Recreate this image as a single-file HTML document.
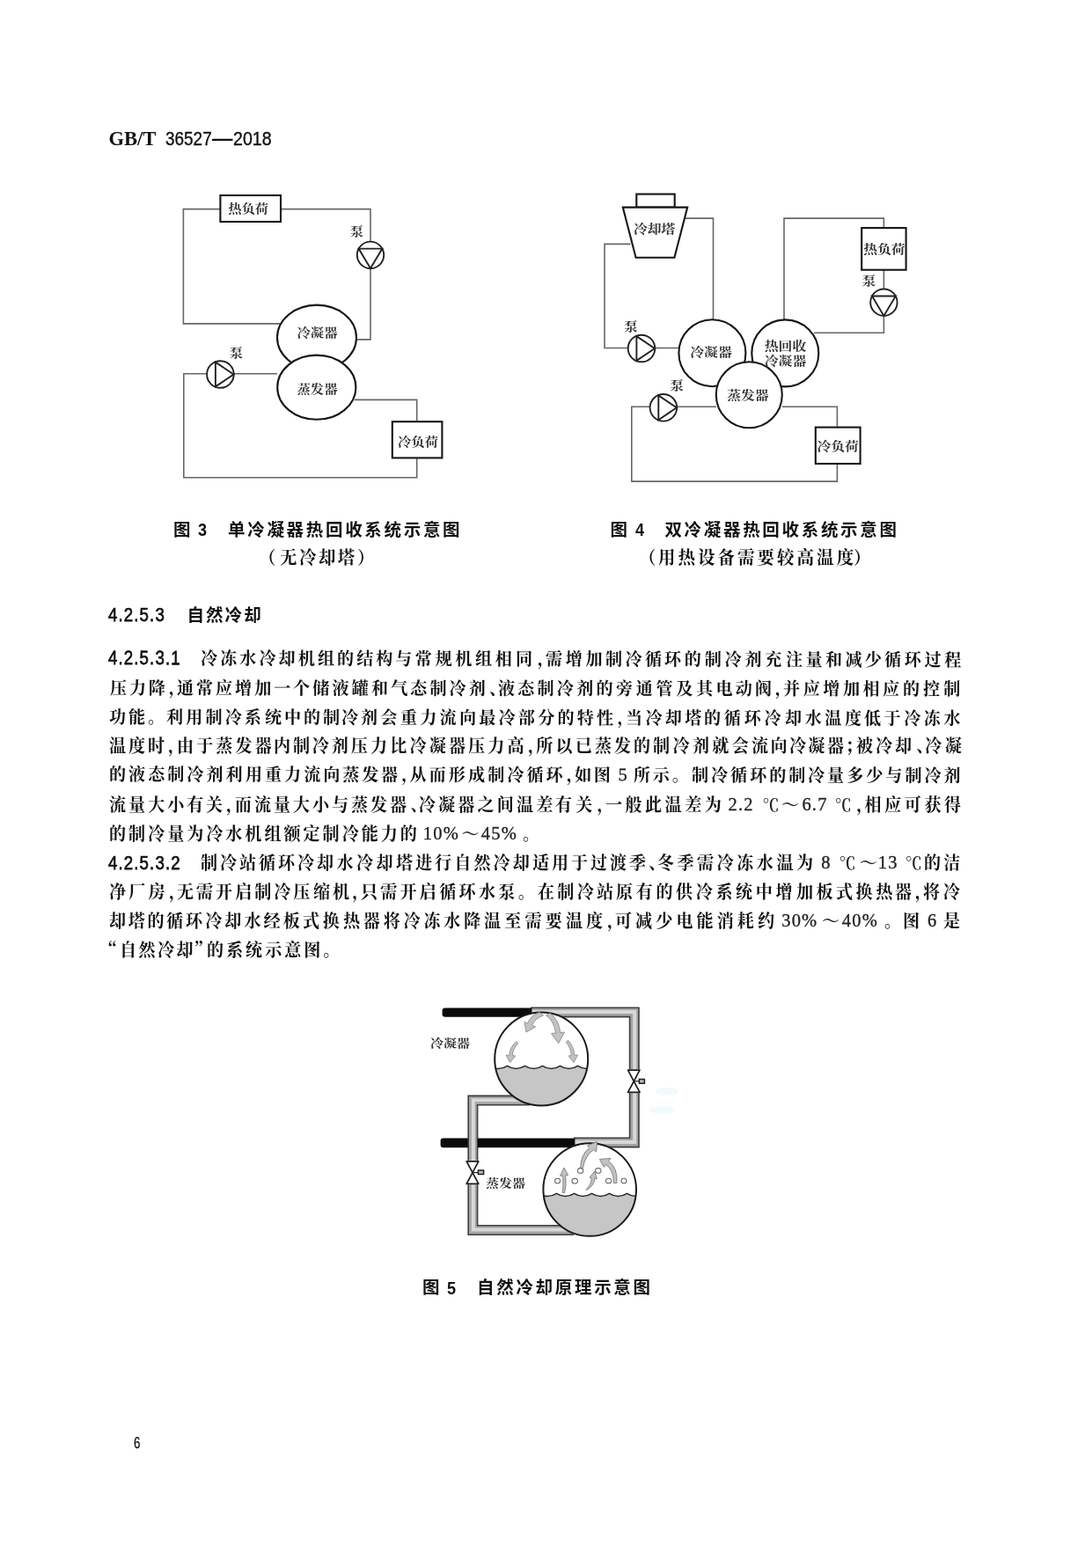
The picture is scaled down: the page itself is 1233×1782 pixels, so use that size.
<!DOCTYPE html>
<html lang="zh-CN">
<head>
<meta charset="utf-8">
<title>GB/T 36527—2018</title>
<style>
html,body{margin:0;padding:0;background:#fff;}
#page{filter:blur(0.55px);position:relative;width:1233px;height:1782px;overflow:hidden;background:#fff;color:#111;
  font-family:"Liberation Serif","Noto Serif CJK SC",serif;}
#figs{position:absolute;left:0;top:0;}
.hdr{position:absolute;left:0;top:138.2px;width:1233px;white-space:nowrap;height:40px;line-height:40px;}
.hdr b{font-family:"Liberation Serif",serif;font-weight:bold;position:absolute;left:123.4px;top:0;font-size:22.6px;}
.hdr span{font-family:"Liberation Sans",sans-serif;position:absolute;top:0.3px;font-size:22.2px;
  display:block;transform:scaleX(0.854);transform-origin:0 50%;-webkit-text-stroke:0.4px #111;}
.hdr span.dash{font-weight:bold;transform:scaleX(1.06);-webkit-text-stroke:0;top:-0.6px;}
.ln{position:absolute;left:0;width:1233px;height:30px;line-height:30px;font-size:20.1px;white-space:nowrap;transform-origin:124px 50%;}
.ln .c{position:absolute;top:0;display:block;white-space:nowrap;
  font-family:"Noto Serif CJK SC",serif;font-weight:700;transform:scaleX(0.95);transform-origin:0 50%;}
.ln i{font-style:normal;position:relative;left:1.2px;}
.ln .s{position:absolute;top:0;display:block;font-family:"Noto Serif CJK SC",serif;font-weight:600;color:#222;}
.ln .s.q{font-weight:700;color:#111;}
.ln .n,.sec b{position:absolute;top:0.9px;font-family:"Liberation Sans",sans-serif;font-weight:normal;font-size:22.2px;
  letter-spacing:1.35px;transform:scaleX(0.84);transform-origin:0 50%;display:block;-webkit-text-stroke:0.75px #111;}
.ln .d{position:absolute;top:0;font-family:"Liberation Serif",serif;font-weight:normal;color:#222;font-size:20.5px;letter-spacing:1.2px;-webkit-text-stroke:0.35px #222;top:0.4px;}
.ln .g{position:absolute;top:0;font-family:"Noto Serif CJK SC",serif;font-weight:600;color:#222;font-size:19px;}
.sec{position:absolute;left:123.4px;white-space:nowrap;height:30px;line-height:30px;}
.sec span{position:absolute;left:89px;top:0;font-size:19.5px;letter-spacing:2.1px;font-family:"Noto Sans CJK SC",sans-serif;font-weight:bold;}
.cap{position:absolute;left:0;width:1233px;height:28px;line-height:28px;white-space:nowrap;font-size:19.5px;font-weight:bold;
  font-family:"Liberation Sans","Noto Sans CJK SC",sans-serif;}
.cap span{position:absolute;top:0;letter-spacing:2.69px;}
.cap b{position:absolute;top:0.5px;font-size:21px;display:block;transform:scaleX(0.86);transform-origin:0 50%;}
.sub{position:absolute;left:0;width:1233px;height:28px;line-height:28px;white-space:nowrap;font-size:20.5px;
  font-family:"Noto Serif CJK SC",serif;font-weight:700;}
.sub span{position:absolute;top:0;display:block;transform:scaleX(0.95);transform-origin:0 50%;}
.lbl text{font-family:"Liberation Serif","Noto Serif CJK SC",serif;font-weight:bold;text-anchor:middle;fill:#333;stroke:none;}
.lbl{font-size:15px;}
.pg{position:absolute;left:151.6px;top:1624.6px;font-size:18.6px;line-height:30px;height:30px;font-family:"Liberation Sans",sans-serif;
  display:block;transform:scaleX(0.72);transform-origin:0 50%;-webkit-text-stroke:0.3px #111;}
</style>
</head>
<body>
<div id="page">
<div class="hdr"><b>GB/T</b> <span style="left:187.9px">36527</span><span class="dash" style="left:240.6px">—</span><span style="left:264.6px;transform:scaleX(0.885)">2018</span></div>

<svg id="figs" width="1233" height="1782" viewBox="0 0 1233 1782">
<g id="fig3" fill="none" stroke-linejoin="miter">
  <g stroke="#666" stroke-width="1.6">
    <path d="M250.5 237.6 H208.4 V367.9 H318"/>
    <path d="M319 237.6 H421 V274.5"/>
    <path d="M421 305 V385.9 H404"/>
    <path d="M235 424.7 H208.8 V542.7 H473.7 V520.5"/>
    <path d="M265.5 424.7 H315"/>
    <path d="M403 454.4 H473.7 V479"/>
  </g>
  <g stroke="#161616" stroke-width="2.1" fill="#fff">
    <rect x="250.4" y="222" width="68.6" height="30"/>
    <rect x="445.8" y="479.2" width="56.6" height="41.2"/>
    <ellipse cx="360" cy="383.6" rx="45" ry="37"/>
    <ellipse cx="359.8" cy="440.2" rx="44.6" ry="36.6"/>
  </g>
  <g stroke="#222" stroke-width="1.9" fill="#fff">
    <circle cx="421" cy="289.8" r="15.2"/>
    <path d="M407.6 282.6 H434.4 L421 305 Z" fill="none"/>
    <circle cx="250.4" cy="425.5" r="15.3"/>
    <path d="M244.9 411.6 V439.4 L265.5 425.5 Z" fill="none"/>
  </g>
  <g class="lbl" style="font-size:15.3px">
    <text transform="translate(282.2 241.8) scale(1 0.86)">热负荷</text>
    <text transform="translate(360.5 382.8) scale(1 0.86)">冷凝器</text>
    <text transform="translate(360.5 446.8) scale(1 0.86)">蒸发器</text>
    <text transform="translate(475.0 506.8) scale(1 0.86)">冷负荷</text>
    <text transform="translate(405.5 268.3) scale(1 0.86)">泵</text>
    <text transform="translate(268.4 405.5) scale(1 0.86)">泵</text>
  </g>
</g>

<g id="fig4" fill="none" stroke-linejoin="miter">
  <g stroke="#666" stroke-width="1.6">
    <path d="M778 248.1 H810.5 V363"/>
    <path d="M716.5 277.4 H687 V395.5 H713.5"/>
    <path d="M743.8 395.5 H771"/>
    <path d="M738 462.3 H717.8 V547.1 H951.4 V527"/>
    <path d="M768.4 462.3 H814"/>
    <path d="M889 462.3 H951.4 V485.5"/>
    <path d="M891 364 V248.1 H1004.4 V259"/>
    <path d="M1004.4 306.7 V328.5"/>
    <path d="M1004.4 359 V378.2 H925"/>
  </g>
  <g stroke="#161616" stroke-width="2.1" fill="#fff">
    <rect x="723.3" y="220.6" width="43.4" height="15"/>
    <path d="M707.8 235.6 H781.2 L766.4 292.8 H722.6 Z"/>
    <rect x="979.2" y="259" width="50.4" height="47.7"/>
    <rect x="926.8" y="485.6" width="50.8" height="41.4"/>
    <circle cx="809.4" cy="401.2" r="38"/>
    <circle cx="892.3" cy="401.4" r="38"/>
    <circle cx="851.3" cy="448.8" r="37.5"/>
  </g>
  <g stroke="#222" stroke-width="1.9" fill="#fff">
    <circle cx="729" cy="396" r="15.3"/>
    <path d="M723.4 382.1 V409.9 L744 396 Z" fill="none"/>
    <circle cx="753.9" cy="463.3" r="15.3"/>
    <path d="M748.3 449.4 V477.2 L768.9 463.3 Z" fill="none"/>
    <circle cx="1004.4" cy="343.7" r="15.2"/>
    <path d="M991 336.5 H1017.8 L1004.4 358.9 Z" fill="none"/>
  </g>
  <g class="lbl" style="font-size:15.8px">
    <text transform="translate(743.6 265.1) scale(1 0.86)">冷却塔</text>
    <text transform="translate(808.0 405.0) scale(1 0.86)">冷凝器</text>
    <text transform="translate(892.5 397.7) scale(1 0.86)">热回收</text>
    <text transform="translate(892.5 414.7) scale(1 0.86)">冷凝器</text>
    <text transform="translate(849.8 453.8) scale(1 0.86)">蒸发器</text>
    <text transform="translate(1004.8 288.4) scale(1 0.86)">热负荷</text>
    <text transform="translate(952.2 512.4) scale(1 0.86)">冷负荷</text>
    <text transform="translate(716.8 375.8) scale(1 0.86)">泵</text>
    <text transform="translate(769.2 442.8) scale(1 0.86)">泵</text>
    <text transform="translate(987.4 323.5) scale(1 0.86)">泵</text>
  </g>
</g>

<g id="fig5" fill="none">
  <g class="smudge" fill="#c8f0f0" opacity="0.24"><ellipse cx="758" cy="1240.5" rx="13" ry="4.5"/><ellipse cx="752.5" cy="1261.5" rx="15" ry="4.5"/></g>
  <defs>
    <clipPath id="c5a"><circle cx="615.2" cy="1203.6" r="52.6"/></clipPath>
    <clipPath id="c5b"><circle cx="670.2" cy="1352" r="52.4"/></clipPath>
  </defs>
  <!-- upper pipe loop -->
  <g stroke-linejoin="miter" stroke-linecap="butt">
    <path d="M603 1150.4 H720.8 V1298.4 H652" stroke="#3e3e3e" stroke-width="12"/>
    <path d="M603 1150.4 H720.8 V1298.4 H652" stroke="#a4a4a4" stroke-width="8.8"/>
    <path d="M603 1150 H721.2 V1298 H652" stroke="#d8d8d8" stroke-width="4"/>
    <path d="M602 1250.6 H537.4 V1398 H652" stroke="#3e3e3e" stroke-width="12"/>
    <path d="M602 1250.6 H537.4 V1398 H652" stroke="#a4a4a4" stroke-width="8.8"/>
    <path d="M602 1250.2 H537.8 V1397.6 H652" stroke="#d8d8d8" stroke-width="4"/>
  </g>
  <!-- black bars -->
  <path d="M506 1145.6 H604.4 V1155.8 H506 Q502.6 1155.8 502.6 1152.6 V1148.8 Q502.6 1145.6 506 1145.6 Z" fill="#0a0a0a"/>
  <path d="M504 1293.6 H531.8 V1304.2 H504 Q500.6 1304.2 500.6 1301 V1296.8 Q500.6 1293.6 504 1293.6 Z" fill="#0a0a0a"/>
  <rect x="543" y="1293.6" width="110.4" height="10.6" fill="#0a0a0a"/>
  <!-- valves -->
  <g stroke="#1c1c1c" stroke-width="1.7" fill="#fff" stroke-linejoin="round">
    <rect x="712.6" y="1215.2" width="16.4" height="27" fill="#fff" stroke="none"/>
    <path d="M713.6 1216.2 H727 L720.3 1228.8 Z M713.6 1241.4 H727 L720.3 1228.8 Z"/>
    <path d="M720.3 1228.8 H726" fill="none" stroke-width="1.2"/>
    <rect x="726.4" y="1226.4" width="6" height="4.8" fill="#bbb" stroke-width="1.5"/>
    <rect x="529.2" y="1318.8" width="16.4" height="27.4" fill="#fff" stroke="none"/>
    <path d="M530.2 1319.8 H543.8 L537 1332.6 Z M530.2 1345.4 H543.8 L537 1332.6 Z"/>
    <path d="M537 1332.6 H543" fill="none" stroke-width="1.2"/>
    <rect x="543.4" y="1330" width="6.2" height="4.6" fill="#bbb" stroke-width="1.5"/>
  </g>
  <!-- condenser vessel -->
  <circle cx="615.2" cy="1203.6" r="53" fill="#fff"/>
  <g clip-path="url(#c5a)">
    <path d="M556.5 1211.4 q10 6.4 20 0 q10 6.4 20 0 q10 6.4 20 0 q10 6.4 20 0 q10 6.4 20 0 q10 6.4 20 0 V1260 H556 Z" fill="#c6c6c6" stroke="#2a2a2a" stroke-width="1.5" stroke-linejoin="miter"/>
  </g>
  <circle cx="615.2" cy="1203.6" r="53" stroke="#1a1a1a" stroke-width="2"/>
  <g fill="#c2c2c2" stroke="#8c8c8c" stroke-width="0.9" stroke-linejoin="round">
    <path d="M613 1150.5 Q603 1154 599.5 1163 L596 1161.5 L598 1173 L608.5 1167 L604.5 1165.2 Q608 1157.5 617.5 1154 Z"/>
    <path d="M620.5 1154 Q629.5 1160 631.5 1174 L626.5 1174.5 L634.8 1185.6 L641.5 1173 L636.8 1173.6 Q635 1158.5 625 1151.5 Z"/>
    <path d="M586.8 1183.6 Q579.5 1190 578.6 1199.4 L575 1199 L579.6 1207.4 L585.6 1200 L582.2 1199.6 Q583 1191.6 588.6 1186 Z"/>
    <path d="M643.2 1184.2 Q648.6 1190.6 649.4 1199.6 L646 1200 L652 1207.4 L656.6 1199 L653 1199.4 Q652 1189.4 645.6 1182.4 Z"/>
  </g>
  <!-- evaporator vessel -->
  <circle cx="670.2" cy="1352" r="52.8" fill="#fff"/>
  <g clip-path="url(#c5b)">
    <path d="M612.5 1356.4 q10 6.4 20 0 q10 6.4 20 0 q10 6.4 20 0 q10 6.4 20 0 q10 6.4 20 0 q10 6.4 20 0 V1408 H612 Z" fill="#c6c6c6" stroke="#2a2a2a" stroke-width="1.5" stroke-linejoin="miter"/>
  </g>
  <circle cx="670.2" cy="1352" r="52.8" stroke="#1a1a1a" stroke-width="2"/>
  <g fill="#c2c2c2" stroke="#7c7c7c" stroke-width="0.9" stroke-linejoin="round">
    <path d="M659.6 1327.5 Q660 1312 669.6 1304.6 L667.6 1302 L678.6 1297.4 L677.6 1309 L674.6 1306.6 Q665 1313 662.4 1327.5 Z"/>
    <path d="M666 1352.6 Q672 1346 672.6 1339 L670 1338.6 L675.6 1331 L678.4 1339.6 L676 1339.4 Q675 1348 666 1352.6 Z"/>
    <path d="M697.4 1344.6 Q697.6 1330 688.6 1323.4 L686.4 1326.4 L681.4 1317.4 L694 1316.4 L691.6 1319.6 Q702.6 1328 700.8 1344.6 Z"/>
    <path d="M639.4 1355.6 Q640.4 1346 639.6 1336 L636.6 1336.4 L641 1327 L645.6 1335.6 L642.8 1335.8 Q643.8 1347 641.6 1355.6 Z"/>
  </g>
  <g fill="#fff" stroke="#6a6a6a" stroke-width="1.1">
    <ellipse cx="659.6" cy="1330.4" rx="3.2" ry="2.8"/>
    <ellipse cx="653.2" cy="1342.2" rx="3.2" ry="2.8"/>
    <ellipse cx="679.8" cy="1330.4" rx="3.2" ry="2.8"/>
    <ellipse cx="691.6" cy="1342" rx="3.2" ry="2.8"/>
    <ellipse cx="709" cy="1342" rx="3" ry="2.8"/>
    <ellipse cx="633.6" cy="1342" rx="3" ry="2.8"/>
  </g>
  <g class="lbl" style="font-size:15px">
    <text transform="translate(511.5 1190.0) scale(1 0.86)">冷凝器</text>
    <text transform="translate(574.5 1349.4) scale(1 0.86)">蒸发器</text>
  </g>
</g>

</svg>

<div class="cap" style="top:587.6px"><span style="left:197px">图</span> <b style="left:225.4px">3</b> <span style="left:259px">单冷凝器热回收系统示意图</span></div>
<div class="sub" style="top:618px"><span style="left:294px">（</span><span style="left:317.8px;letter-spacing:2.6px">无冷却塔</span><span style="left:405.8px">）</span></div>
<div class="cap" style="top:587.6px"><span style="left:693.4px">图</span> <b style="left:721.6px">4</b> <span style="left:755.4px">双冷凝器热回收系统示意图</span></div>
<div class="sub" style="top:618px"><span style="left:726.4px">（</span><span style="left:748.2px;letter-spacing:3.2px">用热设备需要较高温度</span><span style="left:969.6px">）</span></div>

<div class="sec" style="top:683px"><b>4.2.5.3</b> <span>自然冷却</span></div>

<div class="ln" style="top:732.1px;transform:rotate(0.118deg)"><b class="n" style="left:123.4px">4.2.5.3.1</b> <span class="c" style="left:227.7px;letter-spacing:3.23px">冷冻水冷却机</span><span class="c" style="left:360.7px;letter-spacing:3.14px">组的结构</span><span class="c" style="left:449.0px;letter-spacing:3.86px">与常规机组相</span><span class="c" style="left:585.6px;letter-spacing:4.74px">同<i style="letter-spacing:-9.05px">，</i></span><span class="c" style="left:619.7px;letter-spacing:3.83px">需增加</span><span class="c" style="left:687.9px;letter-spacing:3.55px">制冷循</span><span class="c" style="left:755.3px;letter-spacing:3.97px">环的制冷剂充</span><span class="c" style="left:892.5px;letter-spacing:3.56px">注量和减少</span><span class="c" style="left:1004.9px;letter-spacing:3.90px">循环过程</span></div>
<div class="ln" style="top:766.0px;transform:rotate(0.059deg)"><span class="c" style="left:124.5px;letter-spacing:2.95px">压力降<i style="letter-spacing:-9.05px">，</i></span><span class="c" style="left:200.7px;letter-spacing:3.11px">通常应增加一</span><span class="c" style="left:333.0px;letter-spacing:3.37px">个储液罐</span><span class="c" style="left:422.2px;letter-spacing:3.23px">和气态制冷剂<i style="letter-spacing:-9.05px">、</i></span><span class="c" style="left:565.7px;letter-spacing:3.37px">液态制冷剂的</span><span class="c" style="left:699.5px;letter-spacing:3.87px">旁通管及</span><span class="c" style="left:790.6px;letter-spacing:3.48px">其电动</span><span class="c" style="left:857.8px;letter-spacing:2.74px">阀<i style="letter-spacing:-9.05px">，</i></span><span class="c" style="left:890.0px;letter-spacing:3.75px">并应增加相</span><span class="c" style="left:1003.3px;letter-spacing:4.18px">应的控制</span></div>
<div class="ln" style="top:798.5px;transform:rotate(0.095deg)"><span class="c" style="left:123.5px;letter-spacing:3.02px">功能。</span><span class="c" style="left:189.4px;letter-spacing:3.29px">利用制冷系</span><span class="c" style="left:300.5px;letter-spacing:3.03px">统中的制</span><span class="c" style="left:388.4px;letter-spacing:3.16px">冷剂会</span><span class="c" style="left:454.7px;letter-spacing:3.39px">重力流向最冷部分的特性<i style="letter-spacing:-9.05px">，</i></span><span class="c" style="left:710.7px;letter-spacing:3.48px">当冷却塔</span><span class="c" style="left:800.3px;letter-spacing:3.93px">的循环冷</span><span class="c" style="left:891.6px;letter-spacing:3.79px">却水温度</span><span class="c" style="left:982.4px;letter-spacing:3.72px">低于冷冻水</span></div>
<div class="ln" style="top:832.4px;transform:rotate(0.012deg)"><span class="c" style="left:124.1px;letter-spacing:3.02px">温度时<i style="letter-spacing:-9.05px">，</i></span><span class="c" style="left:200.5px;letter-spacing:3.25px">由于蒸发器</span><span class="c" style="left:311.4px;letter-spacing:2.97px">内制冷剂压</span><span class="c" style="left:421.0px;letter-spacing:3.30px">力比冷凝器压力高<i style="letter-spacing:-9.05px">，</i>所以已蒸</span><span class="c" style="left:698.3px;letter-spacing:2.95px">发的</span><span class="c" style="left:742.1px;letter-spacing:3.54px">制冷剂就会</span><span class="c" style="left:854.4px;letter-spacing:2.48px">流向冷凝</span><span class="c" style="left:940.2px;letter-spacing:3.37px">器<i style="letter-spacing:-9.05px;left:-1.6px">；</i></span><span class="c" style="left:973.0px;letter-spacing:3.16px">被冷</span><span class="c" style="left:1017.2px;letter-spacing:4.32px">却<i style="letter-spacing:-9.05px">、</i></span><span class="c" style="left:1050.9px;letter-spacing:3.90px">冷凝</span></div>
<div class="ln" style="top:864.1px;transform:rotate(0.089deg)"><span class="c" style="left:124.1px;letter-spacing:3.15px">的液态制冷剂利</span><span class="c" style="left:278.7px;letter-spacing:3.13px">用重力流向蒸发</span><span class="c" style="left:433.2px;letter-spacing:3.20px">器<i style="letter-spacing:-9.05px">，</i>从而形成制冷循环<i style="letter-spacing:-9.05px">，</i></span><span class="c" style="left:653.4px;letter-spacing:2.85px">如图</span> <span class="d" style="left:702.4px">5</span> <span class="c" style="left:720.0px;letter-spacing:2.88px">所示。</span><span class="c" style="left:785.5px;letter-spacing:3.13px">制冷循环的制</span><span class="c" style="left:917.9px;letter-spacing:3.15px">冷量多少与制冷剂</span></div>
<div class="ln" style="top:898.5px;transform:rotate(0.012deg)"><span class="c" style="left:123.9px;letter-spacing:3.14px">流量大小有</span><span class="c" style="left:234.3px;letter-spacing:2.95px">关<i style="letter-spacing:-9.05px">，</i></span><span class="c" style="left:266.7px;letter-spacing:3.06px">而流量大小与</span><span class="c" style="left:398.7px;letter-spacing:2.95px">蒸发</span><span class="c" style="left:442.5px;letter-spacing:3.33px">器<i style="letter-spacing:-9.05px">、</i>冷凝器之间温差</span><span class="c" style="left:631.1px;letter-spacing:4.32px">有关<i style="letter-spacing:-9.05px">，</i></span><span class="c" style="left:688.0px;letter-spacing:3.63px">一般此温差为</span> <span class="d" style="left:827.6px">2.2</span> <span class="g" style="left:866.6px">℃</span><span class="s" style="left:888.0px">～</span><span class="d" style="left:911.4px">6.7</span> <span class="g" style="left:948.8px">℃</span><span class="c" style="left:972.3px;letter-spacing:3.74px"><i style="letter-spacing:-9.05px">，</i>相应可获得</span></div>
<div class="ln" style="top:931.6px;transform:rotate(0.012deg)"><span class="c" style="left:124.3px;letter-spacing:3.12px">的制冷量为冷水机组额定制冷能力的</span> <span class="d" style="left:480.8px">10%</span><span class="s" style="left:524.4px">～</span><span class="d" style="left:546.8px">45%</span><span class="c" style="left:593.7px;letter-spacing:3.23px">。</span></div>
<div class="ln" style="top:964.5px;transform:rotate(0.012deg)"><b class="n" style="left:123.4px">4.2.5.3.2</b> <span class="c" style="left:228.3px;letter-spacing:3.06px">制冷站循环冷</span><span class="c" style="left:360.3px;letter-spacing:3.58px">却水冷却</span><span class="c" style="left:450.3px;letter-spacing:3.19px">塔进行自然冷却</span><span class="c" style="left:605.2px;letter-spacing:3.04px">适用于过渡</span><span class="c" style="left:715.1px;letter-spacing:2.11px">季<i style="letter-spacing:-9.05px">、</i></span><span class="c" style="left:746.7px;letter-spacing:3.48px">冬季</span><span class="c" style="left:791.5px;letter-spacing:3.69px">需冷冻水温为</span> <span class="d" style="left:933.3px">8</span> <span class="g" style="left:953.6px">℃</span><span class="s" style="left:976.7px">～</span><span class="d" style="left:997.8px">13</span> <span class="g" style="left:1028.8px">℃</span><span class="c" style="left:1050.1px;letter-spacing:3.37px">的洁</span></div>
<div class="ln" style="top:997.7px;transform:rotate(0.012deg)"><span class="c" style="left:123.7px;letter-spacing:3.37px">净厂房<i style="letter-spacing:-9.05px">，</i></span><span class="c" style="left:201.1px;letter-spacing:3.13px">无需开启制冷压</span><span class="c" style="left:355.6px;letter-spacing:3.79px">缩</span><span class="c" style="left:378.3px;letter-spacing:2.01px">机<i style="letter-spacing:-9.05px">，</i></span><span class="c" style="left:409.8px;letter-spacing:3.37px">只需开启循环</span><span class="c" style="left:543.6px;letter-spacing:3.41px">水泵。</span><span class="c" style="left:610.6px;letter-spacing:3.45px">在制冷站</span><span class="c" style="left:700.1px;letter-spacing:3.79px">原有的供冷系</span><span class="c" style="left:836.3px;letter-spacing:3.83px">统中增</span><span class="c" style="left:904.5px;letter-spacing:3.63px">加板式换热</span><span class="c" style="left:1017.2px;letter-spacing:2.64px">器<i style="letter-spacing:-9.05px">，</i></span><span class="c" style="left:1049.3px;letter-spacing:3.90px">将冷</span></div>
<div class="ln" style="top:1030.7px;transform:rotate(0.024deg)"><span class="c" style="left:123.7px;letter-spacing:2.81px">却塔的</span><span class="c" style="left:189.0px;letter-spacing:3.19px">循环冷却水经板</span><span class="c" style="left:343.9px;letter-spacing:3.90px">式换</span><span class="c" style="left:389.5px;letter-spacing:3.96px">热器将冷冻水降</span><span class="c" style="left:549.5px;letter-spacing:4.36px">温至需要温</span><span class="c" style="left:665.7px;letter-spacing:4.01px">度<i style="letter-spacing:-9.05px">，</i></span><span class="c" style="left:699.1px;letter-spacing:4.25px">可减少电能消耗约</span> <span class="d" style="left:888.2px">30%</span><span class="s" style="left:934.0px">～</span><span class="d" style="left:956.8px">40%</span><span class="c" style="left:1005.3px;letter-spacing:3.23px">。</span><span class="c" style="left:1026.1px;letter-spacing:3.23px">图</span> <span class="d" style="left:1054.1px">6</span> <span class="c" style="left:1072.4px;letter-spacing:3.23px">是</span></div>
<div class="ln" style="top:1063.9px"><span class="s q" style="left:112.9px">“</span><span class="c" style="left:136.3px;letter-spacing:2.57px">自然冷却</span><span class="s q" style="left:220.6px">”</span><span class="c" style="left:234.8px;letter-spacing:3.12px">的系统示意图。</span></div>

<div class="cap" style="top:1449.2px"><span style="left:480px">图</span> <b style="left:508px">5</b> <span style="left:542px">自然冷却原理示意图</span></div>
<div class="pg">6</div>
</div>
</body>
</html>
